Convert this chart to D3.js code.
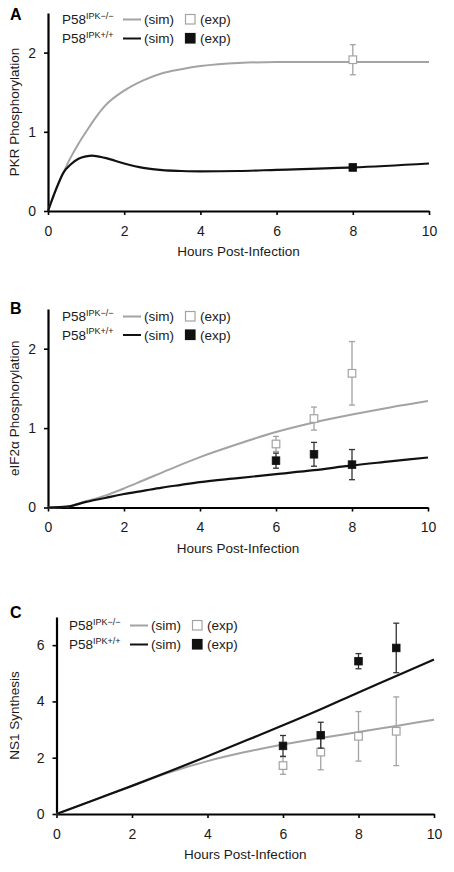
<!DOCTYPE html>
<html><head><meta charset="utf-8">
<script src="https://cdn.jsdelivr.net/npm/d3@7"></script>
<style>
body{margin:0;background:#fff}
svg{display:block}
text{font-family:"Liberation Sans",Arial,sans-serif;fill:#1a1a1a}
</style>
</head><body>
<svg id="c" width="454" height="872"></svg>
<script>
// ---------- DATA ----------
const xLabel = "Hours Post-Infection";
const xTicks = [0, 2, 4, 6, 8, 10];
const genotypes = ["IPK\u2212/\u2212", "IPK+/+"];
const simLabel = "(sim)";
const expLabel = "(exp)";

// Panel A: PKR phosphorylation
const aYLabel = "PKR Phosphorylation";
const aYTicks = [0, 1, 2];
const aKoSimT = [0, 0.2, 0.4, 0.6, 0.8, 1.0, 1.25, 1.5, 2, 2.5, 3, 3.5, 4, 5, 6, 8, 10];
const aKoSimV = [0, 0.26, 0.48, 0.68, 0.85, 1.0, 1.18, 1.33, 1.52, 1.65, 1.74, 1.79, 1.83, 1.87, 1.88, 1.88, 1.88];
const aWtSimT = [0, 0.2, 0.4, 0.6, 0.8, 1.0, 1.15, 1.5, 2, 2.5, 3, 3.5, 4, 5, 6, 8, 10];
const aWtSimV = [0, 0.26, 0.48, 0.59, 0.66, 0.69, 0.70, 0.67, 0.60, 0.545, 0.515, 0.505, 0.50, 0.505, 0.52, 0.55, 0.60];
const aKoExpT = [8];
const aKoExpV = [1.91];
const aKoExpErr = [0.19];
const aWtExpT = [8];
const aWtExpV = [0.55];
const aWtExpErr = [0.04];

// Panel B: eIF2a phosphorylation
const bYLabel = "eIF2\u03b1 Phosphorylation";
const bYTicks = [0, 1, 2];
const bSimT = [0, 0.5, 1, 1.5, 2, 2.5, 3, 3.5, 4, 5, 6, 7, 8, 9, 10];
const bKoSimV = [0, 0.01, 0.08, 0.15, 0.24, 0.34, 0.44, 0.54, 0.635, 0.80, 0.95, 1.07, 1.17, 1.26, 1.34];
const bWtSimV = [0, 0.01, 0.07, 0.12, 0.17, 0.21, 0.25, 0.285, 0.32, 0.37, 0.42, 0.47, 0.53, 0.58, 0.63];
const bExpT = [6, 7, 8];
const bKoExpV = [0.80, 1.12, 1.69];
const bKoExpErr = [0.095, 0.145, 0.40];
const bWtExpV = [0.59, 0.67, 0.54];
const bWtExpErr = [0.095, 0.15, 0.19];

// Panel C: NS1 synthesis
const cYLabel = "NS1 Synthesis";
const cYTicks = [0, 2, 4, 6];
const cSimT = [0, 1, 2, 3, 4, 5, 6, 7, 8, 9, 10];
const cKoSimV = [0, 0.5, 1.0, 1.48, 1.88, 2.2, 2.47, 2.7, 2.91, 3.13, 3.35];
const cWtSimV = [0, 0.5, 1.0, 1.52, 2.05, 2.6, 3.15, 3.72, 4.32, 4.9, 5.49];
const cExpT = [6, 7, 8, 9];
const cKoExpV = [1.72, 2.20, 2.76, 2.94];
const cKoExpErr = [0.31, 0.63, 0.88, 1.22];
const cWtExpV = [2.42, 2.80, 5.43, 5.90];
const cWtExpErr = [0.37, 0.46, 0.27, 0.88];

// ---------- DRAWING ----------
const GRAY = "#a3a3a3";
const BLACK = "#111";
const svg = d3.select("#c");
svg.append("rect").attr("width", 454).attr("height", 872).attr("fill", "#fff");

function zip(t, v, e) { return t.map((d, i) => ({ t: d, v: v[i], e: e ? e[i] : 0 })); }

const panels = [
  { letter: "A", lx: 10, ly: 20, x0: 48, x1: 429, yTop: 13, yBot: 211, yMax: 2.5,
    yTicks: aYTicks, yLabel: aYLabel, leg: { x: 62, y: 24, dy: 19 },
    ko: zip(aKoSimT, aKoSimV), wt: zip(aWtSimT, aWtSimV),
    koExp: zip(aKoExpT, aKoExpV, aKoExpErr), wtExp: zip(aWtExpT, aWtExpV, aWtExpErr) },
  { letter: "B", lx: 10, ly: 314, x0: 48, x1: 428, yTop: 309, yBot: 507.5, yMax: 2.5,
    yTicks: bYTicks, yLabel: bYLabel, leg: { x: 62, y: 321, dy: 18.5 },
    ko: zip(bSimT, bKoSimV), wt: zip(bSimT, bWtSimV),
    koExp: zip(bExpT, bKoExpV, bKoExpErr), wtExp: zip(bExpT, bWtExpV, bWtExpErr) },
  { letter: "C", lx: 10, ly: 618, x0: 56.5, x1: 434, yTop: 617, yBot: 814, yMax: 7,
    yTicks: cYTicks, yLabel: cYLabel, leg: { x: 69, y: 630, dy: 19 },
    ko: zip(cSimT, cKoSimV), wt: zip(cSimT, cWtSimV),
    koExp: zip(cExpT, cKoExpV, cKoExpErr), wtExp: zip(cExpT, cWtExpV, cWtExpErr) }
];

panels.forEach(p => {
  const g = svg.append("g");
  const x = d3.scaleLinear().domain([0, 10]).range([p.x0, p.x1]);
  const y = d3.scaleLinear().domain([0, p.yMax]).range([p.yBot, p.yTop]);

  // panel letter
  g.append("text").attr("x", p.lx).attr("y", p.ly).attr("font-size", 16)
    .attr("font-weight", "bold").style("fill", "#000").text(p.letter);

  // axes
  const xa = g.append("g").attr("transform", `translate(0,${p.yBot})`)
    .call(d3.axisBottom(x).tickValues(xTicks).tickSize(4).tickSizeOuter(0).tickPadding(11).tickFormat(d3.format("d")));
  const ya = g.append("g").attr("transform", `translate(${p.x0},0)`)
    .call(d3.axisLeft(y).tickValues(p.yTicks).tickSize(4).tickSizeOuter(0).tickPadding(8).tickFormat(d3.format("d")));
  [xa, ya].forEach(a => {
    a.select(".domain").attr("stroke", "#000").attr("stroke-width", 2.2);
    a.selectAll(".tick line").attr("stroke", "#000").attr("stroke-width", 1.6);
    a.selectAll(".tick text").attr("font-size", 14).style("fill", "#1a1a1a")
      .attr("font-family", "Liberation Sans, Arial, sans-serif");
  });

  // axis titles
  g.append("text").attr("x", (p.x0 + p.x1) / 2).attr("y", p.yBot + 45)
    .attr("text-anchor", "middle").attr("font-size", 13.5).text(xLabel);
  g.append("text").attr("transform", `translate(19,${(p.yTop + p.yBot) / 2}) rotate(-90)`)
    .attr("text-anchor", "middle").attr("font-size", 13.5).text(p.yLabel);

  // simulation lines
  const line = d3.line().x(d => x(d.t)).y(d => y(d.v)).curve(d3.curveMonotoneX);
  g.append("path").datum(p.ko).attr("d", line).attr("fill", "none")
    .attr("stroke", GRAY).attr("stroke-width", 2);
  g.append("path").datum(p.wt).attr("d", line).attr("fill", "none")
    .attr("stroke", BLACK).attr("stroke-width", 2.2);

  // experimental points with error bars
  function drawExp(data, color, fill, barColor) {
    const eg = g.append("g");
    const s = eg.selectAll("g").data(data).join("g");
    s.append("line").attr("x1", d => x(d.t)).attr("x2", d => x(d.t))
      .attr("y1", d => y(d.v + d.e)).attr("y2", d => y(d.v - d.e))
      .attr("stroke", barColor).attr("stroke-width", 1.3);
    s.append("line").attr("x1", d => x(d.t) - 3).attr("x2", d => x(d.t) + 3)
      .attr("y1", d => y(d.v + d.e)).attr("y2", d => y(d.v + d.e))
      .attr("stroke", barColor).attr("stroke-width", 1.3);
    s.append("line").attr("x1", d => x(d.t) - 3).attr("x2", d => x(d.t) + 3)
      .attr("y1", d => y(d.v - d.e)).attr("y2", d => y(d.v - d.e))
      .attr("stroke", barColor).attr("stroke-width", 1.3);
    s.append("rect").attr("x", d => x(d.t) - 3.8).attr("y", d => y(d.v) - 3.8)
      .attr("width", 7.6).attr("height", 7.6)
      .attr("fill", fill).attr("stroke", color).attr("stroke-width", fill === "#fff" ? 1.2 : 0.8);
  }
  drawExp(p.koExp, GRAY, "#fff", GRAY);
  drawExp(p.wtExp, BLACK, BLACK, "#333");

  // legend
  const L = g.append("g").attr("transform", `translate(${p.leg.x},${p.leg.y})`);
  genotypes.forEach((gt, i) => {
    const row = L.append("g").attr("transform", `translate(0,${i * p.leg.dy})`);
    const t = row.append("text").attr("x", 0).attr("y", 0).attr("font-size", 13.5);
    t.append("tspan").text("P58");
    t.append("tspan").attr("font-size", 9).attr("dy", -5.5).text(gt);
    row.append("line").attr("x1", 61).attr("x2", 79).attr("y1", -4.5).attr("y2", -4.5)
      .attr("stroke", i === 0 ? GRAY : BLACK).attr("stroke-width", 2);
    row.append("text").attr("x", 82).attr("y", 0).attr("font-size", 13.5).text(simLabel);
    row.append("rect").attr("x", 123.5).attr("y", -9.5).attr("width", 9.5).attr("height", 9.5)
      .attr("fill", i === 0 ? "#fff" : BLACK).attr("stroke", i === 0 ? GRAY : BLACK)
      .attr("stroke-width", 1.2);
    row.append("text").attr("x", 138).attr("y", 0).attr("font-size", 13.5).text(expLabel);
  });
});
</script>
</body></html>
